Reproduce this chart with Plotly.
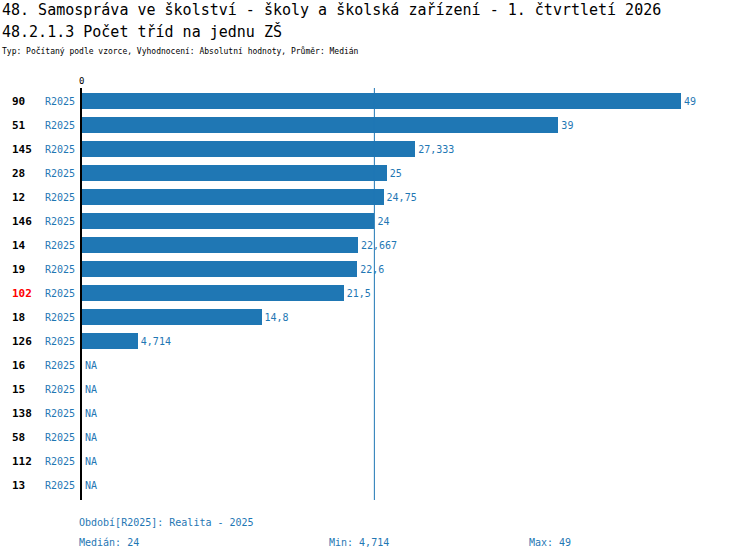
import plotly.graph_objects as go

categories = ["90", "51", "145", "28", "12", "146", "14", "19", "102", "18", "126", "16", "15", "138", "58", "112", "13"]
values = [49, 39, 27.333, 25, 24.75, 24, 22.667, 22.6, 21.5, 14.8, 4.714, None, None, None, None, None, None]
period = "R2025"
highlight = "102"
median_val = 24
min_val = 4.714
max_val = 49

BLUE = "#1f77b4"
MONO = "DejaVu Sans Mono"

W, H = 750, 560
L, R, T, B = 80, 20, 89, 63
PW, PH = W - L - R, H - T - B

def pxx(p):
    return (p - L) / PW

def pxy(p):
    return (H - B - p) / PH

def fmt(v):
    s = ("%.3f" % v).rstrip("0").rstrip(".")
    return s.replace(".", ",")

idx = list(range(len(categories)))
bar_text = [fmt(v) if v is not None else "" for v in values]

fig = go.Figure()
fig.add_trace(go.Bar(
    x=values, y=idx, orientation="h", marker=dict(color=BLUE, line=dict(width=0)),
    width=0.66, text=bar_text, textposition="outside",
    textfont=dict(color=BLUE, size=10, family=MONO), cliponaxis=False,
    hoverinfo="skip",
))

# median line
fig.add_shape(type="line", xref="x", yref="paper", x0=median_val, x1=median_val,
              y0=pxy(500), y1=pxy(88), line=dict(color=BLUE, width=1))
# axis line
fig.add_shape(type="line", xref="paper", yref="paper", x0=pxx(81), x1=pxx(81),
              y0=pxy(500), y1=pxy(88), line=dict(color="black", width=2), layer="above")

ann = []
for i, c in enumerate(categories):
    ann.append(dict(x=pxx(10), y=i, xref="paper", yref="y", text="<b>%s</b>" % c,
                    showarrow=False, xanchor="left", yanchor="middle",
                    font=dict(size=11, family=MONO, color="red" if c == highlight else "black")))
    ann.append(dict(x=pxx(77), y=i, xref="paper", yref="y", text=period,
                    showarrow=False, xanchor="right", yanchor="middle",
                    font=dict(size=10, family=MONO, color=BLUE)))
    if values[i] is None:
        ann.append(dict(x=0, y=i, xref="x", yref="y", text="NA", xshift=3,
                        showarrow=False, xanchor="left", yanchor="middle",
                        font=dict(size=10, family=MONO, color=BLUE)))

ann.append(dict(x=pxx(0), y=pxy(10), xref="paper", yref="paper", showarrow=False,
                xanchor="left", yanchor="middle",
                text="48. Samospráva ve školství - školy a školská zařízení - 1. čtvrtletí 2026",
                font=dict(size=15, family=MONO, color="black")))
ann.append(dict(x=pxx(0), y=pxy(31), xref="paper", yref="paper", showarrow=False,
                xanchor="left", yanchor="middle", text="48.2.1.3 Počet tříd na jednu ZŠ",
                font=dict(size=15, family=MONO, color="black")))
ann.append(dict(x=pxx(0), y=pxy(51), xref="paper", yref="paper", showarrow=False,
                xanchor="left", yanchor="middle",
                text="Typ: Počítaný podle vzorce, Vyhodnocení: Absolutní hodnoty, Průměr: Medián",
                font=dict(size=8, family=MONO, color="black")))
ann.append(dict(x=pxx(81), y=pxy(81), xref="paper", yref="paper", showarrow=False,
                xanchor="center", yanchor="middle", text="0",
                font=dict(size=9, family=MONO, color="black")))
ann.append(dict(x=pxx(77), y=pxy(522), xref="paper", yref="paper", showarrow=False,
                xanchor="left", yanchor="middle", text="Období[%s]: Realita - 2025" % period,
                font=dict(size=10, family=MONO, color=BLUE)))
ann.append(dict(x=pxx(77), y=pxy(542), xref="paper", yref="paper", showarrow=False,
                xanchor="left", yanchor="middle", text="Medián: %s" % fmt(median_val),
                font=dict(size=10, family=MONO, color=BLUE)))
ann.append(dict(x=pxx(327), y=pxy(542), xref="paper", yref="paper", showarrow=False,
                xanchor="left", yanchor="middle", text="Min: %s" % fmt(min_val),
                font=dict(size=10, family=MONO, color=BLUE)))
ann.append(dict(x=pxx(527), y=pxy(542), xref="paper", yref="paper", showarrow=False,
                xanchor="left", yanchor="middle", text="Max: %s" % fmt(max_val),
                font=dict(size=10, family=MONO, color=BLUE)))

fig.update_layout(
    width=W, height=H, margin=dict(l=L, r=R, t=T, b=B, pad=0),
    paper_bgcolor="white", plot_bgcolor="white", showlegend=False,
    annotations=ann, font=dict(family=MONO),
    xaxis=dict(range=[0, PW / ((681 - 80) / 49)], showgrid=False, zeroline=False,
               showticklabels=False, showline=False, fixedrange=True),
    yaxis=dict(range=[len(categories) - 0.5, -0.5], showgrid=False, zeroline=False,
               showticklabels=False, showline=False, fixedrange=True),
    bargap=0,
)

fig.write_html("out.html", config={"displayModeBar": False, "staticPlot": True},
               post_script="document.body.style.margin='0';document.body.style.overflow='hidden';")
